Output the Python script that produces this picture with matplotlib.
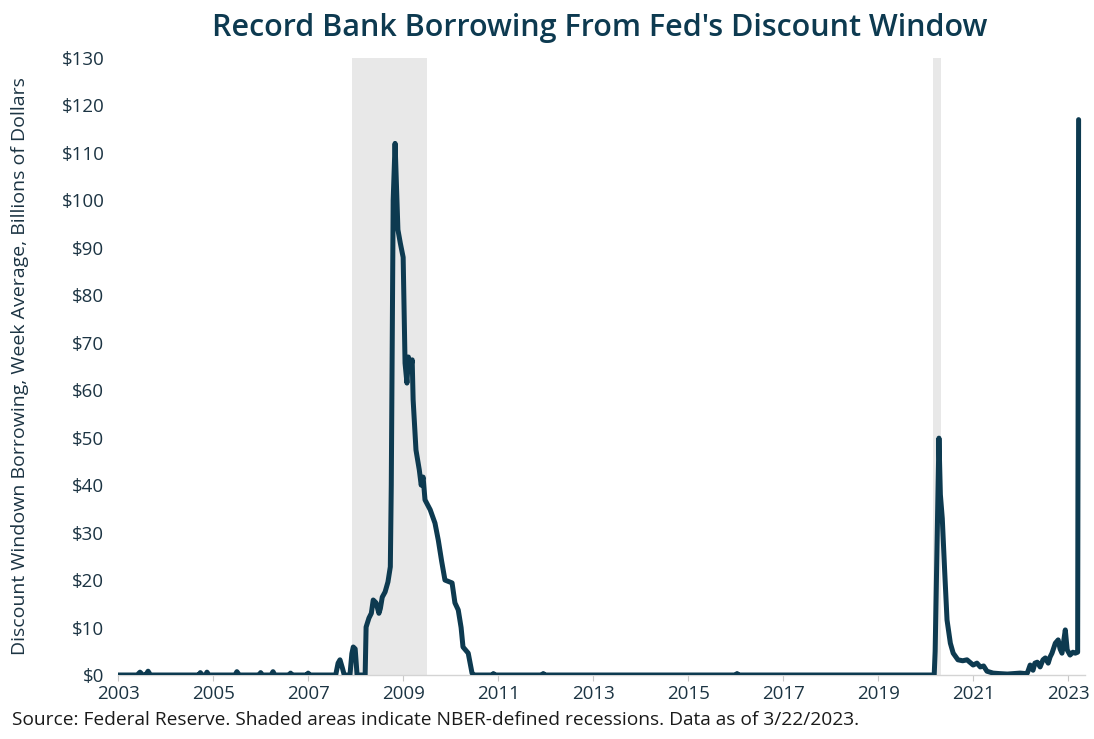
import matplotlib.pyplot as plt

# Weekly discount window borrowing (decimal years, $bn)
dates = [
    2003.00, 2003.40, 2003.46, 2003.52, 2003.58, 2003.63, 2003.68,
    2004.70, 2004.73, 2004.77, 2004.84, 2004.87, 2004.91,
    2005.46, 2005.50, 2005.55, 2005.97, 2006.00, 2006.04,
    2006.22, 2006.26, 2006.30, 2006.60, 2006.63, 2006.66,
    2006.97, 2007.00, 2007.03,
    2007.58, 2007.63, 2007.67, 2007.72, 2007.76,
    2007.88, 2007.92, 2007.95, 2007.99, 2008.03, 2008.20,
    2008.22, 2008.28, 2008.33, 2008.37, 2008.43, 2008.49, 2008.52,
    2008.56, 2008.62, 2008.68, 2008.73, 2008.75, 2008.79, 2008.83,
    2008.87, 2008.89, 2008.94, 2009.00, 2009.04, 2009.08, 2009.11,
    2009.15, 2009.19, 2009.21, 2009.27, 2009.34, 2009.38, 2009.42,
    2009.46, 2009.57, 2009.67, 2009.74, 2009.81, 2009.88, 2010.03,
    2010.09, 2010.16, 2010.22, 2010.26, 2010.37, 2010.45, 2010.50,
    2010.88, 2010.90, 2010.93, 2011.92, 2011.95, 2011.98,
    2016.00, 2016.03, 2016.06,
    2020.18, 2020.20, 2020.28, 2020.31, 2020.35, 2020.40, 2020.45,
    2020.52, 2020.58, 2020.68, 2020.78, 2020.87, 2021.00, 2021.08,
    2021.15, 2021.22, 2021.29, 2021.42, 2021.55, 2021.72, 2021.85,
    2021.99, 2022.10, 2022.14, 2022.20, 2022.26, 2022.30, 2022.35,
    2022.41, 2022.47, 2022.52, 2022.58, 2022.62, 2022.66, 2022.73,
    2022.79, 2022.83, 2022.87, 2022.92, 2022.94, 2022.98, 2023.04,
    2023.10, 2023.15, 2023.20, 2023.22,
]
borrowing_bn = [
    0, 0, 0.6, 0, 0, 0.8, 0,
    0, 0.5, 0, 0, 0.6, 0,
    0, 0.7, 0, 0, 0.5, 0,
    0, 0.7, 0, 0, 0.4, 0,
    0, 0.4, 0,
    0, 2.5, 3.2, 1.5, 0,
    0, 4.5, 5.9, 5.5, 0, 0,
    10.1, 12.0, 13.0, 15.8, 15.2, 13.0, 14.0,
    16.4, 17.5, 19.6, 22.8, 40.0, 100.0, 112.0,
    100.0, 93.8, 91.0, 88.0, 65.7, 61.5, 67.0,
    64.0, 66.4, 58.0, 47.4, 43.2, 40.0, 41.7,
    36.9, 34.8, 32.0, 28.4, 24.0, 20.0, 19.4,
    15.2, 13.7, 10.0, 5.9, 4.6, 0.4, 0,
    0, 0.3, 0, 0, 0.3, 0,
    0, 0.3, 0,
    0, 5.0, 49.9, 38.0, 33.0, 22.0, 11.6,
    6.7, 4.6, 3.2, 3.0, 3.2, 2.1, 2.5,
    1.7, 1.9, 0.8, 0.4, 0.3, 0.2, 0.3,
    0.4, 0.3, 0.4, 2.1, 1.0, 2.5, 2.7,
    1.7, 3.2, 3.6, 2.5, 3.8, 4.6, 6.7,
    7.4, 5.5, 4.6, 8.0, 9.5, 5.3, 4.2,
    4.8, 4.6, 4.8, 117.0,
]

# NBER recessions (decimal years)
recessions = [(2007.92, 2009.50), (2020.15, 2020.32)]

year_ticks = list(range(2003, 2024, 2))
dollar_ticks = list(range(0, 131, 10))

navy = '#0d3a50'
label_color = '#1c3443'

plt.rcParams['font.family'] = ['Open Sans', 'DejaVu Sans']

fig = plt.figure(figsize=(10.94, 7.39), dpi=100)
ax = fig.add_axes([0.108, 0.0866, 0.884, 0.835])

for start, end in recessions:
    ax.axvspan(start, end, color='#e8e8e8', lw=0, zorder=0)

ax.plot(dates, borrowing_bn, color=navy, lw=3.6,
        solid_joinstyle='round', solid_capstyle='round', zorder=3)

ax.set_xlim(2003, 2023.36)
ax.set_ylim(0, 130)
ax.set_xticks(year_ticks)
ax.set_xticklabels([str(y) for y in year_ticks])
ax.set_yticks(dollar_ticks)
ax.set_yticklabels(['$' + str(v) for v in dollar_ticks])

for side in ['top', 'right', 'left']:
    ax.spines[side].set_visible(False)
ax.spines['bottom'].set_color('#d4d4d4')
ax.spines['bottom'].set_linewidth(1.0)

ax.tick_params(axis='x', colors='#c8c8c8', length=4, width=0.8,
               labelcolor=label_color, labelsize=13.5, pad=3)
ax.tick_params(axis='y', length=0, labelcolor=label_color,
               labelsize=13.5, pad=10)

ax.set_ylabel('Discount Windown Borrowing, Week Average, Billions of Dollars',
              fontsize=14, color=label_color)
ax.yaxis.set_label_coords(-0.092, 0.5)

fig.text(0.548, 0.962, "Record Bank Borrowing From Fed's Discount Window",
         ha='center', va='center', fontsize=22, fontweight='semibold',
         color=navy)
fig.text(0.011, 0.026,
         'Source: Federal Reserve. Shaded areas indicate NBER-defined recessions. '
         'Data as of 3/22/2023.',
         ha='left', va='center', fontsize=13.8, color='#1a1a1a')

fig.savefig('out.png', dpi=100)
